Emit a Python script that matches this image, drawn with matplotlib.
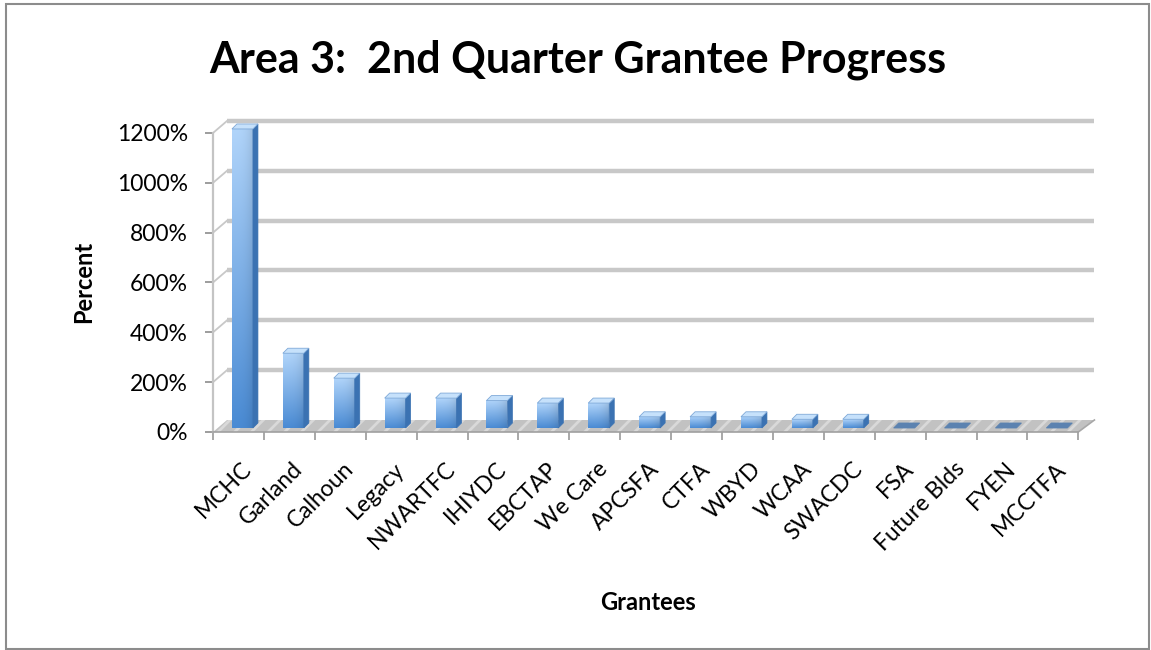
import numpy as np
import matplotlib
matplotlib.use("Agg")
import matplotlib.pyplot as plt
from matplotlib.patches import Polygon, Rectangle
from matplotlib.colors import to_rgb

# ---- data -------------------------------------------------------------
grantees = ["MCHC", "Garland", "Calhoun", "Legacy", "NWARTFC", "IHIYDC", "EBCTAP",
            "We Care", "APCSFA", "CTFA", "WBYD", "WCAA", "SWACDC", "FSA",
            "Future Blds", "FYEN", "MCCTFA"]
progress_pct = [1200, 300, 200, 120, 120, 110, 100, 100, 45, 45, 45, 35, 35, 0, 0, 0, 0]
y_ticks = [0, 200, 400, 600, 800, 1000, 1200]
y_tick_labels = [f"{v}%" for v in y_ticks]

# ---- figure / axes ----------------------------------------------------
W, H = 1151, 650
plt.rcParams['font.family'] = ['Lato', 'DejaVu Sans']
plt.rcParams['hatch.linewidth'] = 2.0
fig = plt.figure(figsize=(W / 100, H / 100), dpi=100)

ax_l, ax_r, ax_t, ax_b = 213, 1100, 115, 440
ax = fig.add_axes([ax_l / W, 1 - ax_b / H, (ax_r - ax_l) / W, (ax_b - ax_t) / H])
px_per_cat = 50.9
px_per_pct = 0.2492
x0 = -0.5
n = len(grantees)
xmax = x0 + (ax_r - ax_l) / px_per_cat
ymin = -(ax_b - 432) / px_per_pct
ymax = (432 - ax_t) / px_per_pct

# pseudo-3D depth offsets (data units)
back_dx = 14 / px_per_cat
back_dy = 12 / px_per_pct
bar_shift = 4 / px_per_cat
bar_base = 4 / px_per_pct
bar_w = 21 / px_per_cat
bar_ddx = 5 / px_per_cat
bar_ddy = 5 / px_per_pct

# back wall gridlines
for v in y_ticks[1:]:
    ax.plot([x0 + back_dx, x0 + n + back_dx * 1.15], [v + back_dy, v + back_dy],
            color='#c8c8c8', lw=3.2, solid_capstyle='butt', zorder=1)
    ax.plot([x0, x0 + back_dx], [v, v + back_dy], color='#c8c8c8', lw=1.3, zorder=1)

# floor
floor = Polygon([(x0, 0), (x0 + n, 0), (x0 + n + back_dx * 1.15, back_dy),
                 (x0 + back_dx, back_dy)], closed=True, facecolor='#c2c2c2',
                edgecolor='#d9d9d9', hatch='//', lw=0, zorder=2)
ax.add_patch(floor)
ax.plot([x0 + n, x0 + n + back_dx * 1.15], [0, back_dy], color='#a8a8a8', lw=1.2, zorder=2)

# bars
top_c = np.array(to_rgb('#b0d4fa'))
bot_c = np.array(to_rgb('#4a8bd4'))
ny, nx = 64, 16
tv = np.linspace(0, 1, ny)[:, None, None]
sh = np.linspace(0, 1, nx)[None, :, None]
grad = bot_c + (top_c - bot_c) * tv
grad = grad * (1 - 0.10 * sh ** 3)
grad = np.clip(grad, 0, 1)

centers = np.arange(n)
ax.bar(centers + bar_shift, progress_pct, width=bar_w, bottom=bar_base,
       color='none', edgecolor='none', zorder=3)
for i, v in enumerate(progress_pct):
    xl = i + bar_shift - bar_w / 2
    xr = xl + bar_w
    if v > 0:
        ax.imshow(grad, extent=[xl, xr, bar_base, bar_base + v], origin='lower',
                  aspect='auto', interpolation='bilinear', zorder=3)
        side = Polygon([(xr, bar_base), (xr + bar_ddx, bar_base + bar_ddy),
                        (xr + bar_ddx, bar_base + v + bar_ddy), (xr, bar_base + v)],
                       closed=True, facecolor='#3b72b2', edgecolor='#3b72b2', lw=0.5, zorder=3)
        ax.add_patch(side)
        top_face = '#c6e1fb'
    else:
        top_face = '#5b82b0'
    top = Polygon([(xl, bar_base + v), (xr, bar_base + v),
                   (xr + bar_ddx, bar_base + v + bar_ddy), (xl + bar_ddx, bar_base + v + bar_ddy)],
                  closed=True, facecolor=top_face, edgecolor='#7fa9d8' if v > 0 else '#5b82b0',
                  lw=0.6, zorder=4)
    ax.add_patch(top)

# axes styling
ax.set_xlim(x0, xmax)
ax.set_ylim(ymin, ymax)
ax.set_autoscale_on(False)
for s in ('top', 'right'):
    ax.spines[s].set_visible(False)
ax.spines['left'].set_position(('data', x0))
ax.spines['left'].set_bounds(0, 1200)
ax.spines['left'].set_color('#c4c4c4')
ax.spines['left'].set_linewidth(1.6)
ax.spines['bottom'].set_position(('data', 0))
ax.spines['bottom'].set_bounds(x0, x0 + n)
ax.spines['bottom'].set_color('#a0a0a0')
ax.spines['bottom'].set_linewidth(1.2)
ax.patch.set_visible(False)

ax.set_yticks(y_ticks)
ax.set_yticklabels(y_tick_labels, fontsize=16.5)
ax.tick_params(axis='y', direction='out', length=6, width=1.2, color='#8c8c8c', pad=12)

ax.set_xticks(centers + 0.05)
ax.set_xticklabels(grantees, rotation=45, ha='right', rotation_mode='anchor', fontsize=16.5)
ax.set_xticks(np.arange(n + 1) + x0, minor=True)
ax.tick_params(axis='x', which='major', length=0, pad=19)
ax.tick_params(axis='x', which='minor', direction='out', length=6, width=1.2, color='#9a9a9a')

# titles
fig.text(578 / W, 1 - 72 / H, "Area 3:  2nd Quarter Grantee Progress", ha='center',
         va='baseline', fontsize=31, fontweight='bold')
fig.text(84 / W, 1 - 282 / H, "Percent", rotation=90, ha='center', va='center',
         fontsize=17, fontweight='bold')
fig.text(648 / W, 1 - 602 / H, "Grantees", ha='center', va='center',
         fontsize=17, fontweight='bold')

# chart border
fig.add_artist(Rectangle((6 / W, 1 / H), (1149 - 6) / W, (646 - 1) / H,
                         transform=fig.transFigure, fill=False, ec='#8c8c8c', lw=1.5))

fig.savefig('out.png', dpi=100)
